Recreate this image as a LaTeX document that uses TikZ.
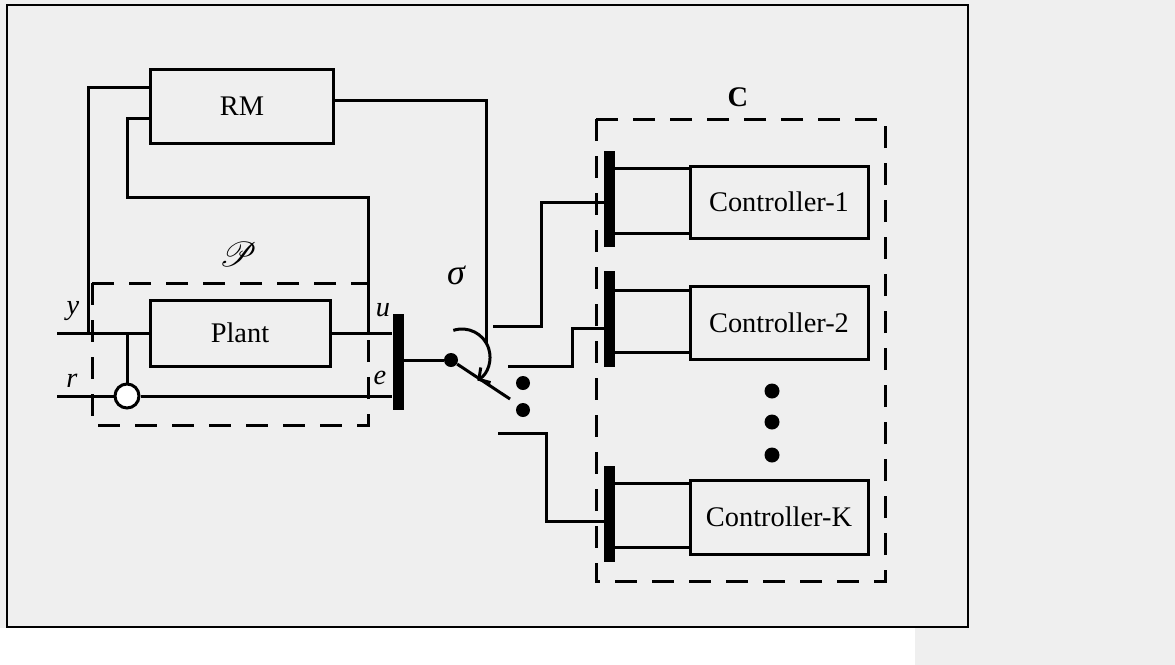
\documentclass[tikz,border=0pt]{standalone}
\usepackage{fontspec}
\setmainfont{Liberation Serif}
\usepackage{mathrsfs}
\usetikzlibrary{arrows.meta,calc}
\definecolor{panelgray}{HTML}{EFEFEF}
\newcommand{\blkfont}{\fontsize{14.2}{17}\selectfont}

\begin{document}
\begin{tikzpicture}[x=0.5pt,y=-0.5pt,
  wire/.style={line width=1.5pt},
  blockbox/.style={draw,line width=1.5pt,inner sep=0pt,font=\blkfont},
  busbar/.style={fill=black,inner sep=0pt,minimum width=5.5pt,minimum height=48pt},
  jdot/.style={circle,fill=black,inner sep=0pt,minimum size=7pt},
  groupbox/.style={line width=1.5pt,dash pattern=on 11pt off 7.5pt}]
% page and frame
\fill[panelgray] (0,0) rectangle (1175,665);
\fill[white] (0,628) rectangle (915,665);
\draw[line width=1pt] (7,5) rectangle (968,627);

% plant side
\node[blockbox,minimum width=91.5pt,minimum height=37pt] (rm) at (242,106) {RM};
\node[blockbox,minimum width=90pt,minimum height=33pt] (plant) at (240,333) {Plant};
\node[circle,draw,line width=1.5pt,fill=white,inner sep=0pt,minimum size=12pt] (sum) at (127,396) {};
\node[busbar] (bu) at (398,362) {};
\coordinate (yin) at (57,333);
\coordinate (rin) at (57,396);
\coordinate (yt) at (88,333);
\coordinate (ut) at (368,333);
\coordinate (rmy) at (151,87);
\coordinate (rmu) at (151,118);
\coordinate (rmout) at (333,100);

\draw[wire] (yin) -- (plant.west);
\draw[wire] (plant.east) -- (plant.east -| bu.west);
\draw[wire] (rin) -- (sum.west);
\draw[wire] (sum.east) -- (sum.east -| bu.west);
\draw[wire] (sum.north) -- (sum.north |- yin);
\draw[wire] (yt) |- (rmy);
\draw[wire] (ut) |- (127,197) |- (rmu);
\draw[groupbox] (92,283) rectangle (368,425);

\node[font=\blkfont\itshape] at (73,311) {y};
\node[font=\blkfont\itshape] at (72,381) {r};
\node[font=\blkfont\itshape] at (383,310) {u};
\node[font=\blkfont\itshape] at (380,378) {e};
\node[font=\fontsize{19}{21}\selectfont] at (238,254) {$\mathscr{P}$};

% switch
\node[jdot] (sw) at (451,360) {};
\node[jdot] (k1) at (523,383) {};
\node[jdot] (k2) at (523,410) {};
\coordinate (blade) at (510,399);
\coordinate (sigtop) at (486,343);
\draw[wire] (bu.east |- sw) -- (sw);
\draw[wire] (sw) -- (blade);
\draw[wire] (rmout) -| (sigtop);
\draw[wire,-{Straight Barb[length=4pt,width=9pt]}] ($(462,357)+(-108:28)$) arc[start angle=-108,end angle=57,radius=28];
\node[font=\fontsize{18}{20}\selectfont\itshape] at (456,275) {σ};

% controllers
\node[blockbox,minimum width=89pt,minimum height=36pt] (ctrl1) at (779,202) {Controller-1};
\node[blockbox,minimum width=89pt,minimum height=36.5pt] (ctrl2) at (779,322.5) {Controller-2};
\node[blockbox,minimum width=89pt,minimum height=37pt] (ctrlK) at (779,517) {Controller-K};
\node[busbar] (b1) at (609,199) {};
\node[busbar] (b2) at (609,318.5) {};
\node[busbar] (bK) at (609,513.5) {};
\foreach \n/\ya/\yb in {1/168/233,2/290/352,K/483/547}{
  \coordinate (ta) at (0,\ya);
  \coordinate (tb) at (0,\yb);
  \draw[wire] (b\n.east |- ta) -- (ctrl\n.west |- ta);
  \draw[wire] (b\n.east |- tb) -- (ctrl\n.west |- tb);
}
\coordinate (c1s) at (493,326);
\coordinate (c2s) at (508,366);
\coordinate (cKs) at (498,433);
\coordinate (c1e) at (604,202);
\coordinate (c2e) at (604,328);
\coordinate (cKe) at (604,521);
\draw[wire] (c1s) -- (541,326) |- (c1e);
\draw[wire] (c2s) -- (572,366) |- (c2e);
\draw[wire] (cKs) -- (546,433) |- (cKe);
\foreach \y in {391,422,455}
  \node[jdot,minimum size=7.5pt] at (772,\y) {};
\draw[groupbox] (596,119) rectangle (885,581);
\node[font=\blkfont\bfseries] at (738,97) {C};
\end{tikzpicture}
\end{document}
